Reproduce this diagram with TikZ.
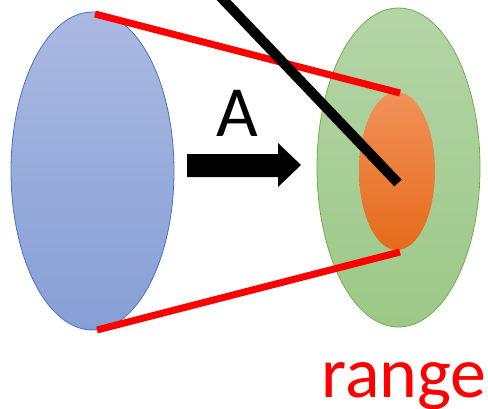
\documentclass[tikz,border=0pt]{standalone}
\usepackage{fontspec}
\setmainfont{Carlito}
\usetikzlibrary{shapes.geometric}
\definecolor{blueTop}{HTML}{AAB9E1}
\definecolor{blueBot}{HTML}{879FD6}
\definecolor{blueEdge}{HTML}{4472C4}
\definecolor{greenTop}{HTML}{B4D5A7}
\definecolor{greenBot}{HTML}{9DC887}
\definecolor{greenEdge}{HTML}{70AD47}
\definecolor{orangeTop}{HTML}{F19159}
\definecolor{orangeBot}{HTML}{E66B1A}
\definecolor{redline}{HTML}{FF0000}
\tikzset{
  oval/.style={ellipse, inner sep=0pt, line width=0.8pt},
  redbar/.style={draw=redline, line width=7pt},
  blackbar/.style={draw=black, line width=10pt},
  bigtext/.style={font=\fontsize{72}{72}\selectfont, inner sep=0pt, anchor=base}
}
\begin{document}
\begin{tikzpicture}[x=1pt,y=-1pt]
\useasboundingbox (0,0) rectangle (488,408);
\node[oval, draw=blueEdge, top color=blueTop, bottom color=blueBot,
      minimum width=163pt, minimum height=318pt] (dom) at (92.5,171) {};
\node[oval, draw=greenEdge, top color=greenTop, bottom color=greenBot,
      minimum width=163pt, minimum height=319pt] (cod) at (398.5,167.5) {};
\node[oval, top color=orangeTop, bottom color=orangeBot,
      minimum width=76pt, minimum height=158pt] (rng) at (397,171) {};
\coordinate (t1) at (95,14);
\coordinate (t2) at (400,93);
\coordinate (b1) at (97,330);
\coordinate (b2) at (400,252);
\draw[redbar] (t1) -- (t2);
\draw[redbar] (b1) -- (b2);
\coordinate (k1) at (214,-10);
\coordinate (k2) at (398,183);
\draw[blackbar] (k1) -- (k2);
\fill (187,154) -- (278,154) -- (278,143) -- (301,165) -- (278,187) -- (278,177) -- (187,177) -- cycle;
\node[bigtext] (lblA) at (237.5,136) {A};
\node[bigtext, text=redline] (lblR) at (404,397) {range};
\end{tikzpicture}
\end{document}
